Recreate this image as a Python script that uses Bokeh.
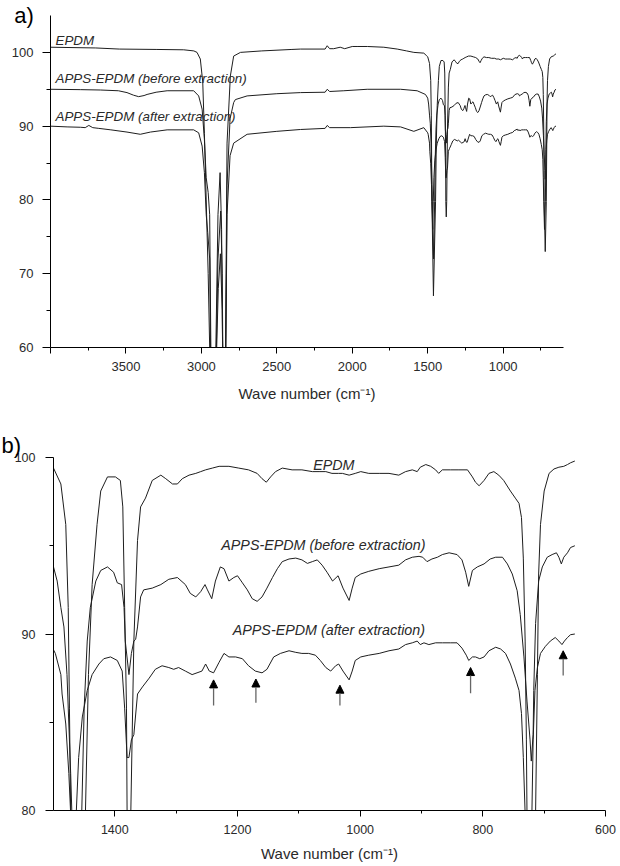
from bokeh.plotting import figure
from bokeh.models import Range1d, FixedTicker, Label, Arrow, NormalHead, ColumnDataSource
from bokeh.embed import file_html
from bokeh.resources import INLINE

# ---------------- data (wavenumber cm-1, transmittance %) ----------------
epdm_wn = [4000, 3700, 3544, 3300, 3117, 3050, 3029, 3007, 2991, 2980, 2968, 2955, 2935, 2922, 2908,
           2890, 2876, 2866, 2855, 2848, 2840, 2830, 2808, 2786, 2741, 2600, 2400, 2343, 2180, 2166,
           2150, 2123, 2080, 2050, 2000, 1968, 1900, 1791, 1702, 1640, 1592, 1526, 1510,
           1500, 1488, 1480, 1476, 1474, 1472, 1462, 1448, 1443, 1437, 1429, 1423, 1412, 1399,
           1391, 1387, 1384, 1381, 1380, 1377, 1374, 1369, 1363, 1358, 1350, 1339, 1325, 1317,
           1306, 1298, 1290, 1279, 1268, 1260, 1252, 1241, 1230, 1214, 1198, 1182, 1168, 1160,
           1153, 1146, 1138, 1127, 1111, 1095, 1078, 1067, 1056, 1046, 1035, 1029, 1018, 1008,
           999, 986, 969, 953, 937, 926, 915, 907, 902, 893, 885, 877, 872, 866, 853, 839, 825,
           817, 812, 806, 798, 790, 782, 774, 766, 755, 747, 741, 737, 734, 731, 729, 728, 721,
           714, 711, 709, 706, 700, 692, 684, 676, 668, 662, 657, 650]
epdm_t = [100.7, 100.6, 100.45, 100.4, 100.35, 100.2, 100.0, 99.1, 96.0, 89.0, 80.0, 70.0, 50.0, 40.0, 55.0,
          78.0, 83.7, 76.0, 50.0, 42.0, 60.0, 87.7, 96.8, 99.5, 100.0, 100.2, 100.4, 100.45, 100.45, 100.9,
          100.5, 100.5, 100.7, 100.5, 100.8, 100.8, 100.8, 100.7, 100.45, 100.2, 100.0, 99.9, 99.6,
          99.4, 98.5, 96.2, 91.5, 85.8, 79.8, 67.0, 79.8, 87.7, 92.8, 96.2, 98.1, 98.9, 98.9,
          98.7, 97.2, 91.5, 85.8, 79.8, 77.7, 79.8, 89.6, 95.3, 97.2, 97.7, 98.7, 99.0, 98.8,
          98.5, 98.5, 98.8, 99.0, 99.1, 99.2, 99.3, 99.4, 99.5, 99.5, 99.4, 99.3, 99.1, 98.8,
          98.6, 98.9, 99.2, 99.4, 99.3, 99.3, 99.2, 99.2, 99.2, 99.1, 99.1, 99.1, 99.0, 99.1,
          99.2, 99.1, 99.1, 99.1, 99.0, 99.2, 99.3, 99.2, 99.45, 99.6, 99.5, 99.3, 99.1, 99.3, 99.3, 99.3, 99.3,
          98.9, 98.6, 98.4, 98.7, 99.1, 99.2, 99.0, 98.7, 98.1, 97.7, 97.4, 96.6, 94.3, 89.6, 84.0, 79.8, 73.0,
          79.8, 87.7, 93.4, 96.2, 98.1, 99.1, 99.35, 99.45, 99.5, 99.6, 99.7, 99.8]

before_wn = [4000, 3800, 3670, 3550, 3493, 3450, 3416, 3380, 3360, 3300, 3227, 3051, 3018, 2995, 2980,
             2968, 2955, 2945, 2935, 2920, 2905, 2890, 2872, 2862, 2852, 2840, 2830, 2810, 2786, 2775,
             2697, 2500, 2343, 2180, 2166, 2150, 2056, 1901, 1680, 1570, 1515,
             1500, 1494, 1488, 1483, 1478, 1472, 1470, 1461, 1454, 1450, 1445, 1440, 1431, 1423,
             1412, 1402, 1396, 1389, 1385, 1383, 1377, 1373, 1369, 1366, 1363, 1358, 1353, 1339,
             1325, 1312, 1298, 1285, 1277, 1268, 1260, 1253, 1249, 1242, 1236, 1228, 1222, 1214,
             1206, 1200, 1192, 1184, 1176, 1168, 1160, 1152, 1143, 1135, 1127, 1116, 1105, 1095,
             1086, 1078, 1070, 1062, 1054, 1045, 1036, 1028, 1018, 1013, 1008, 999, 986, 969, 953,
             937, 926, 915, 904, 898, 891, 883, 874, 866, 855, 842, 834, 828, 823, 817, 809, 798,
             788, 779, 768, 760, 752, 744, 739, 733, 728, 723, 721, 718, 717, 714, 709, 703, 695,
             687, 680, 676, 672, 668, 662, 657, 650]
before_t = [95.0, 94.95, 94.9, 94.8, 94.55, 94.2, 94.0, 94.15, 94.3, 94.6, 94.8, 94.8, 94.1, 92.3, 88.2,
            83.0, 81.0, 78.0, 55.0, 40.0, 55.0, 72.0, 78.5, 70.0, 45.0, 55.0, 82.0, 91.0, 93.2, 93.6,
            94.1, 94.4, 94.55, 94.6, 95.0, 94.7, 94.8, 95.0, 95.0, 94.8, 94.3,
            93.8, 93.0, 91.5, 90.4, 87.7, 82.1, 79.8, 72.0, 79.8, 85.8, 89.6, 91.5, 93.0, 93.6,
            93.8, 93.5, 92.9, 92.8, 91.5, 89.6, 87.7, 88.9, 89.6, 89.7, 90.4, 92.1, 92.5, 92.6,
            92.8, 93.1, 93.2, 92.8, 92.3, 92.1, 92.4, 92.8, 92.5, 92.0, 93.0, 93.8, 93.7, 93.0,
            93.2, 93.3, 92.9, 92.5, 92.0, 91.85, 92.1, 92.6, 93.2, 93.7, 94.1, 94.25, 94.3, 94.2,
            94.0, 94.1, 94.2, 93.9, 93.5, 93.0, 93.3, 92.6, 91.9, 92.6, 93.2, 93.4, 93.55, 93.7, 93.8,
            93.9, 94.2, 94.35, 94.4, 94.35, 94.1, 94.25, 94.35, 94.5, 94.6, 94.5, 94.2, 93.5, 92.7, 93.6, 93.8, 93.97,
            94.25, 94.35, 94.35, 93.97, 93.4, 92.45, 91.1, 88.7, 86.2, 84.0, 82.8, 84.3, 86.8, 90.6, 93.0, 93.8, 94.35,
            94.5, 94.6, 94.35, 93.97, 94.35, 94.6, 94.9, 95.0]

after_wn = [4000, 3890, 3800, 3770, 3746, 3720, 3680, 3600, 3493, 3405, 3338, 3227, 3051, 3018, 2995,
            2980, 2968, 2958, 2945, 2935, 2920, 2905, 2888, 2874, 2862, 2852, 2840, 2830, 2810, 2786,
            2697, 2500, 2343, 2180, 2166, 2150, 2012, 1791, 1680, 1592, 1526,
            1500, 1497, 1488, 1486, 1480, 1475, 1472, 1467, 1463, 1459, 1453, 1445, 1437, 1426,
            1418, 1407, 1396, 1388, 1384, 1380, 1377, 1373, 1369, 1363, 1355, 1344, 1334, 1323,
            1312, 1304, 1296, 1285, 1274, 1266, 1258, 1252, 1246, 1239, 1230, 1222, 1214, 1203,
            1192, 1182, 1171, 1160, 1152, 1141, 1130, 1116, 1105, 1095, 1084, 1073, 1065, 1056,
            1048, 1040, 1035, 1028, 1018, 1013, 1008, 999, 986, 969, 953, 937, 926, 915, 907,
            902, 896, 888, 877, 866, 853, 842, 834, 827, 823, 817, 812, 805, 798, 790, 779, 771,
            763, 755, 747, 741, 737, 734, 731, 726, 720, 718, 715, 711, 706, 698, 690, 682, 676,
            671, 667, 662, 657, 650]
after_t = [90.0, 89.9, 89.85, 89.8, 90.1, 89.8, 89.7, 89.5, 89.2, 88.9, 89.2, 89.5, 89.5, 89.1, 87.3,
           83.7, 78.0, 75.6, 72.0, 50.0, 40.0, 55.0, 68.0, 72.7, 65.0, 45.0, 55.0, 78.0, 86.0, 87.7,
           88.9, 89.3, 89.55, 89.7, 90.1, 89.8, 89.8, 90.0, 89.9, 89.3, 89.8,
           89.1, 88.9, 87.7, 86.6, 84.9, 82.1, 79.8, 76.0, 79.8, 83.0, 85.3, 86.8, 87.7, 88.3,
           88.6, 88.7, 88.5, 87.9, 85.8, 83.0, 83.0, 84.0, 84.3, 86.6, 87.0, 87.5, 88.0, 88.2,
           88.1, 88.0, 88.1, 87.9, 87.7, 87.8, 87.9, 88.3, 87.9, 87.8, 88.4, 88.9, 88.7, 88.7,
           88.6, 88.2, 87.9, 87.8, 88.0, 88.7, 88.9, 89.05, 88.96, 88.9, 88.9, 88.8, 88.5, 88.1,
           87.9, 88.2, 88.3, 87.9, 87.4, 87.9, 88.5, 88.7, 88.8, 88.9, 89.05, 89.15, 89.4, 89.5, 89.6,
           89.4, 89.5, 89.4, 89.5, 89.5, 89.5, 89.5, 89.2, 88.8, 88.5, 88.7, 88.7, 88.6, 88.7, 89.05, 89.25, 89.15,
           88.9, 88.3, 87.5, 86.8, 85.5, 83.0, 79.8, 76.0, 79.8, 84.0, 86.8, 88.1, 88.9, 89.3, 89.6, 89.8, 89.6,
           89.4, 89.6, 89.8, 89.96, 90.0]

series_names = ["EPDM", "APPS-EPDM (before extraction)", "APPS-EPDM (after extraction)"]

# arrows marking new bands in panel b
arrow_wn = [1239, 1170, 1033, 820, 669]
arrow_tip = [87.4, 87.45, 87.1, 88.1, 89.05]
arrow_tail = [85.95, 86.1, 85.95, 86.65, 87.65]

FONT = "Liberation Sans"
LINE = "#1e1e1e"
TXT = "#2a2a2a"


def style(p, tick_size, label_size, y_standoff):
    p.outline_line_color = None
    p.xgrid.visible = False
    p.ygrid.visible = False
    for ax in (p.xaxis[0], p.yaxis[0]):
        ax.axis_line_color = "black"
        ax.major_tick_line_color = "black"
        ax.minor_tick_line_color = "black"
        ax.major_label_text_font = FONT
        ax.major_label_text_color = TXT
        ax.axis_label_text_font = FONT
        ax.axis_label_text_font_style = "normal"
        ax.axis_label_text_color = TXT
        ax.major_tick_in = 0
        ax.minor_tick_in = 0
    p.xaxis.major_label_text_font_size = tick_size
    p.yaxis.major_label_text_font_size = tick_size
    p.xaxis.major_tick_out = 6
    p.xaxis.minor_tick_out = 3
    p.yaxis.major_tick_out = 8
    p.yaxis.minor_tick_out = 4
    p.yaxis.major_label_standoff = y_standoff
    p.xaxis.major_label_standoff = 8
    p.xaxis.axis_label_text_font_size = label_size


# ---------------- panel a ----------------
pa = figure(width=620, height=405, x_range=Range1d(4000, 600), y_range=Range1d(60, 105),
            output_backend="svg", toolbar_location=None,
            min_border_left=50, min_border_right=57, min_border_top=15, min_border_bottom=58)
style(pa, "13px", "15px", 9)
pa.xaxis.ticker = FixedTicker(ticks=[4000, 3500, 3000, 2500, 2000, 1500, 1000],
                              minor_ticks=[3750, 3250, 2750, 2250, 1750, 1250, 750])
pa.xaxis.major_label_overrides = {4000: ""}
pa.yaxis.ticker = FixedTicker(ticks=[60, 70, 80, 90, 100], minor_ticks=[65, 75, 85, 95])
pa.xaxis.axis_label = "Wave number (cm\u207b\u00b9)"
pa.xaxis.axis_label_standoff = 11

# panel tag "a)" drawn as the y-axis label, placed at the top end of the axis
pa.yaxis.axis_label = "a)"
pa.yaxis.axis_label_text_font_size = "22px"
pa.yaxis.axis_label_text_color = "black"
pa.yaxis.axis_label_orientation = "horizontal"
pa.yaxis.axis_label_standoff = -25
pa.yaxis.axis_label_text_baseline = "top"
try:
    pa.yaxis.axis_label_align = "end"
except Exception:
    pass

for wn, t in ((epdm_wn, epdm_t), (before_wn, before_t), (after_wn, after_t)):
    pa.line(wn, t, line_color=LINE, line_width=1)

for name, y in zip(series_names, [101.6, 96.4, 91.3]):
    pa.add_layout(Label(x=3967, y=y, text=name, text_font=FONT, text_font_size="13.4px",
                        text_font_style="italic", text_color=TXT, text_baseline="middle"))

# ---------------- panel b ----------------
pb = figure(width=620, height=459, x_range=Range1d(1500, 600), y_range=Range1d(80, 100),
            output_backend="svg", toolbar_location=None,
            min_border_left=53, min_border_right=15, min_border_top=52, min_border_bottom=52)
style(pb, "12.5px", "15px", 10)
pb.xaxis.ticker = FixedTicker(ticks=[1400, 1200, 1000, 800, 600], minor_ticks=[1300, 1100, 900, 700])
pb.yaxis.ticker = FixedTicker(ticks=[80, 90, 100], minor_ticks=[85, 95])
pb.xaxis.axis_label = "Wave number (cm\u207b\u00b9)"
pb.xaxis.axis_label_standoff = 8

pb.title.text = "b)"
pb.title.align = "left"
pb.title.offset = -52
pb.title.standoff = 0
pb.title.text_font = FONT
pb.title.text_font_size = "22px"
pb.title.text_font_style = "normal"
pb.title.text_color = "black"

for wn, t in ((epdm_wn, epdm_t), (before_wn, before_t), (after_wn, after_t)):
    pb.line(wn, t, line_color=LINE, line_width=1)

for name, x, y in zip(series_names, [1043, 1060, 1051], [99.55, 95.07, 90.24]):
    pb.add_layout(Label(x=x, y=y, text=name, text_font=FONT, text_font_size="14.3px",
                        text_font_style="italic", text_color=TXT, text_baseline="middle",
                        text_align="center"))

arrow_src = ColumnDataSource(dict(x=arrow_wn, y0=arrow_tail, y1=arrow_tip))
pb.add_layout(Arrow(source=arrow_src, x_start="x", y_start="y0", x_end="x", y_end="y1",
                    line_color="#666666", line_width=1.3,
                    end=NormalHead(size=8, fill_color="black", line_color="black", line_width=1)))

open("out.html", "w").write(file_html([pa, pb], INLINE))
